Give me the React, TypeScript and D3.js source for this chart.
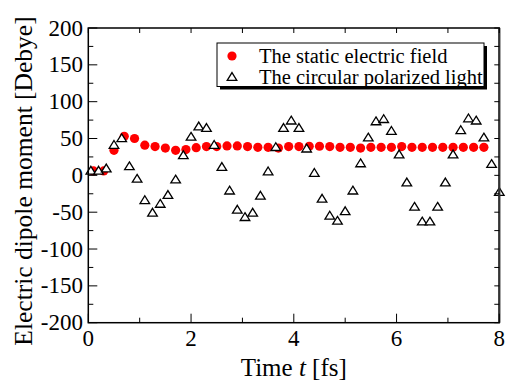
import React from "react";
import * as d3 from "d3";

const tStatic = [0.1, 0.3, 0.5, 0.7, 0.9, 1.1, 1.3, 1.5, 1.7, 1.9, 2.1, 2.3, 2.5, 2.7, 2.9, 3.1, 3.3, 3.5, 3.7, 3.9, 4.1, 4.3, 4.5, 4.7, 4.9, 5.1, 5.3, 5.5, 5.7, 5.9, 6.1, 6.3, 6.5, 6.7, 6.9, 7.1, 7.3, 7.5, 7.7];
const staticValues = [6, 6, 34, 53, 50, 41, 39, 37, 34, 35, 37.5, 39, 39, 40, 40, 39, 38, 38, 37, 39, 39, 39.5, 39.5, 39, 38, 38, 37, 38, 38, 38, 39, 38, 38, 38, 38, 38, 38, 38, 38];

const tCircular = [0.05, 0.2, 0.35, 0.5, 0.65, 0.8, 0.95, 1.1, 1.25, 1.4, 1.55, 1.7, 1.85, 2.0, 2.15, 2.3, 2.45, 2.6, 2.75, 2.9, 3.05, 3.2, 3.35, 3.5, 3.65, 3.8, 3.95, 4.1, 4.25, 4.4, 4.55, 4.7, 4.85, 5.0, 5.15, 5.3, 5.45, 5.6, 5.75, 5.9, 6.05, 6.2, 6.35, 6.5, 6.65, 6.8, 6.95, 7.1, 7.25, 7.4, 7.55, 7.7, 7.85, 8.0];
const circularValues = [7, 7, 10, 42, 51, 13, -4, -33, -50, -38, -26, -5, 28, 53, 67, 65, 42, 12, -20, -46, -56, -50, -27, 6, 39, 65, 75, 65, 37, 4, -31, -54, -61, -48, -20, 17, 52, 74, 77, 61, 29, -9, -42, -62, -62, -42, -9, 29, 62, 78, 75, 52, 16, -22];

const xTicks = [0, 2, 4, 6, 8];
const xMinorTicks = [1, 3, 5, 7];
const yTicks = [-200, -150, -100, -50, 0, 50, 100, 150, 200];
const yMinorTicks = [-175, -125, -75, -25, 25, 75, 125, 175];

const legendLabels = ["The static electric field", "The circular polarized light"];
const xTitle = "Time ";
const xTitleItalic = "t";
const xTitleEnd = " [fs]";
const yTitle = "Electric dipole moment [Debye]";

const FONT = "'Liberation Serif', 'Times New Roman', Times, serif";

function tri(cx: number, cy: number, hw: number, hh: number) {
  return `M${cx},${cy - hh}L${cx + hw},${cy + hh}L${cx - hw},${cy + hh}Z`;
}

export default function App() {
  const x = d3.scaleLinear().domain([0, 8]).range([88.3, 499.3]);
  const y = d3.scaleLinear().domain([-200, 200]).range([322.7, 28]);
  const [x0, x1] = x.range();
  const [y0, y1] = y.range();

  return (
    <svg
      width={512}
      height={380}
      style={{ position: "fixed", left: 0, top: 0, background: "#fff" }}
      fontFamily={FONT}
    >
      <rect x={0} y={0} width={512} height={380} fill="#fff" />

      {tStatic.map((t, i) => (
        <circle key={"s" + i} cx={x(t)} cy={y(staticValues[i])} r={4.6} fill="#ff0000" />
      ))}
      {tCircular.map((t, i) => (
        <path
          key={"c" + i}
          d={tri(x(t), y(circularValues[i]), 4.8, 3.9)}
          fill="#fff"
          stroke="#000"
          strokeWidth={1.3}
        />
      ))}

      <rect x={x0} y={y1} width={x1 - x0} height={y0 - y1} fill="none" stroke="#000" strokeWidth={1.5} />
      <line x1={x1} x2={x1} y1={y1} y2={y0} stroke="#333" strokeWidth={2.2} />

      {xTicks.map((v) => (
        <line key={"bx" + v} x1={x(v)} x2={x(v)} y1={y0} y2={y0 - 9} stroke="#000" strokeWidth={1} />
      ))}
      {xMinorTicks.map((v) => (
        <line key={"bm" + v} x1={x(v)} x2={x(v)} y1={y0} y2={y0 - 5} stroke="#000" strokeWidth={1} />
      ))}
      {[...xTicks, ...xMinorTicks].map((v) => (
        <line key={"tx" + v} x1={x(v)} x2={x(v)} y1={y1} y2={y1 + 5} stroke="#000" strokeWidth={1} />
      ))}
      {yTicks.map((v) => (
        <line key={"ly" + v} x1={x0} x2={x0 + 9} y1={y(v)} y2={y(v)} stroke="#000" strokeWidth={1} />
      ))}
      {yMinorTicks.map((v) => (
        <line key={"lm" + v} x1={x0} x2={x0 + 5} y1={y(v)} y2={y(v)} stroke="#000" strokeWidth={1} />
      ))}
      {[...yTicks, ...yMinorTicks].map((v) => (
        <line key={"ry" + v} x1={x1} x2={x1 - 5} y1={y(v)} y2={y(v)} stroke="#000" strokeWidth={1} />
      ))}

      {xTicks.map((v) => (
        <text key={"xl" + v} x={x(v)} y={345.5} textAnchor="middle" fontSize={23} fill="#000">
          {v}
        </text>
      ))}
      {yTicks.map((v) => (
        <text key={"yl" + v} x={83} y={y(v) + 7.5} textAnchor="end" fontSize={23} fill="#000">
          {v}
        </text>
      ))}

      <text x={(x0 + x1) / 2} y={376} textAnchor="middle" fontSize={25} fill="#000">
        {xTitle}
        <tspan fontStyle="italic">{xTitleItalic}</tspan>
        {xTitleEnd}
      </text>
      <text
        transform={`translate(32,181) rotate(-90)`}
        textAnchor="middle"
        fontSize={25.5}
        fill="#000"
      >
        {yTitle}
      </text>

      <rect x={220} y={46} width={267} height={43.5} fill="#000" />
      <rect x={217} y={43} width={267} height={43.5} fill="#fff" stroke="#000" strokeWidth={1} />
      <circle cx={232} cy={56} r={4.6} fill="#ff0000" />
      <path d={tri(232, 76.5, 4.8, 3.9)} fill="#fff" stroke="#000" strokeWidth={1.3} />
      <text x={259} y={63} fontSize={20.5} fill="#000">
        {legendLabels[0]}
      </text>
      <text x={259} y={83.5} fontSize={20.5} fill="#000">
        {legendLabels[1]}
      </text>
    </svg>
  );
}
